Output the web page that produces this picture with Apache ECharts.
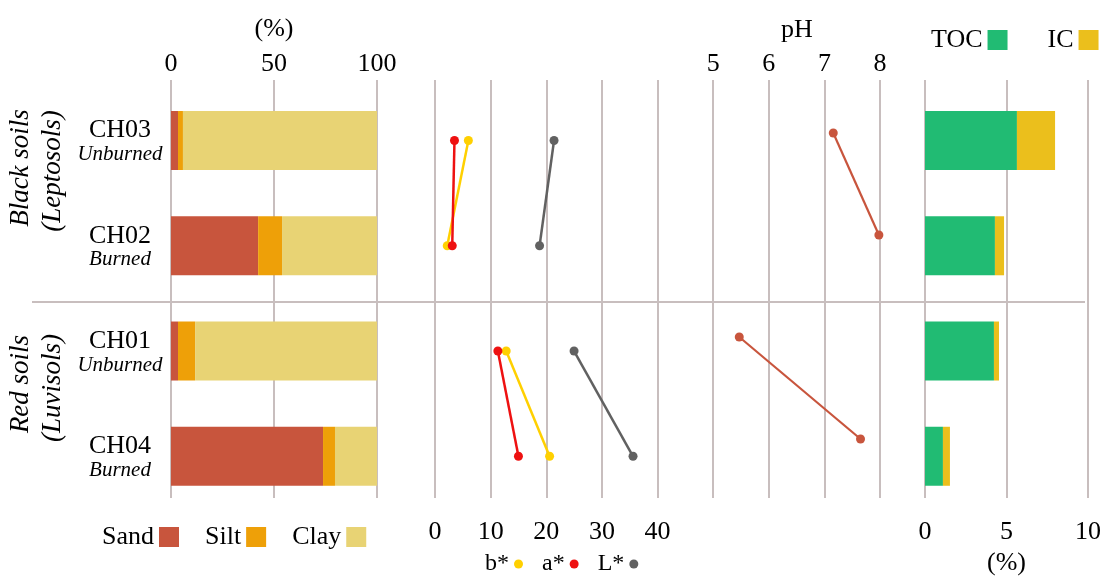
<!DOCTYPE html>
<html>
<head>
<meta charset="utf-8">
<script src="https://cdn.jsdelivr.net/npm/echarts@6/dist/echarts.min.js"></script>
<style>html,body{margin:0;padding:0;background:#fff;}#c{width:1102px;height:576px;}</style>
</head>
<body>
<div id="c"></div>
<script>
// ---- data ----
const samples = ['CH03', 'CH02', 'CH01', 'CH04'];
const treatments = ['Unburned', 'Burned', 'Unburned', 'Burned'];
const groupTop = ['Black soils', '(Leptosols)'];
const groupBottom = ['Red soils', '(Luvisols)'];
const sand = [3.4, 42.3, 3.4, 73.8];
const silt = [2.4, 11.6, 8.3, 5.8];
const clay = [94.2, 46.1, 88.3, 20.4];
const colorL = [21.4, 18.8, 25.0, 35.6];
const colorA = [3.5, 3.1, 11.3, 15.0];
const colorB = [6.0, 2.2, 12.8, 20.6];
const pH = [7.16, 7.98, 5.47, 7.65];
const toc = [5.64, 4.29, 4.23, 1.10];
const ic = [2.34, 0.56, 0.31, 0.43];
const textureTicks = [0, 50, 100];
const colorTicks = [0, 10, 20, 30, 40];
const pHTicks = [5, 6, 7, 8];
const carbonTicks = [0, 5, 10];

const FONT = 'Liberation Serif';
const GRID_C = '#C8BEBE';
const txt = (size, extra) => Object.assign({ fontFamily: FONT, fontSize: size, color: '#000' }, extra || {});

const chart = echarts.init(document.getElementById('c'), null, { renderer: 'canvas' });

// frame vertical extent and data extents
const FT = 80, FH = 418;      // frames (gridlines)
const DT = 87.9, DH = 421;    // bars & colour lines
const PT = 82, PH_H = 408;    // pH lines

const hiddenVal = (g) => ({ gridIndex: g, type: 'value', min: 0, max: 1, show: false });
const hiddenCat = (g) => ({ gridIndex: g, type: 'category', data: samples, inverse: true, show: false });
const split = { show: true, lineStyle: { color: GRID_C, width: 2 } };

function pairs(vals, idx) {
  return samples.map((s, i) => idx.includes(i) ? [vals[i], s] : ['-', s]);
}

const groupFont = 'italic 27px "Liberation Serif"';
const g = (left, width, top, height) => ({ left, width, top, height, containLabel: false, outerBoundsMode: 'none' });

const option = {
  animation: false,
  backgroundColor: '#fff',
  grid: [
    g(171, 206, FT, FH),     // 0 texture frame
    g(171, 206, DT, DH),     // 1 texture data
    g(435, 445, FT, FH),     // 2 colour/pH frame
    g(435, 445, DT, DH),     // 3 colour data
    g(435, 445, PT, PH_H),   // 4 pH data
    g(925, 163, FT, FH),     // 5 carbon frame
    g(925, 163, DT, DH)      // 6 carbon data
  ],
  xAxis: [
    { gridIndex: 0, type: 'value', min: 0, max: 100, interval: 50, position: 'top',
      axisLine: { show: false }, axisTick: { show: false }, splitLine: split,
      axisLabel: txt(26, { margin: 3, formatter: v => textureTicks.includes(v) ? String(v) : '' }),
      name: '(%)', nameLocation: 'middle', nameGap: 38, nameTextStyle: txt(26) },
    { gridIndex: 1, type: 'value', min: 0, max: 100, show: false },
    { gridIndex: 2, type: 'value', min: 0, max: 8, interval: 1, position: 'top',
      axisLine: { show: false }, axisTick: { show: false }, splitLine: split,
      axisLabel: txt(26, { margin: 3, formatter: v => pHTicks.includes(v) ? String(v) : '' }) },
    { gridIndex: 2, type: 'value', min: 0, max: 80, interval: 10, position: 'bottom',
      axisLine: { show: false }, axisTick: { show: false }, splitLine: { show: false },
      axisLabel: txt(26, { margin: 21, formatter: v => colorTicks.includes(v) ? String(v) : '' }) },
    { gridIndex: 3, type: 'value', min: 0, max: 80, show: false },
    { gridIndex: 4, type: 'value', min: 0, max: 8, show: false },
    { gridIndex: 5, type: 'value', min: 0, max: 10, interval: 5, position: 'bottom',
      axisLine: { show: false }, axisTick: { show: false }, splitLine: split,
      axisLabel: txt(26, { margin: 21, formatter: v => carbonTicks.includes(v) ? String(v) : '' }),
      name: '(%)', nameLocation: 'middle', nameGap: 52, nameTextStyle: txt(26) },
    { gridIndex: 6, type: 'value', min: 0, max: 10, show: false }
  ],
  yAxis: [
    hiddenVal(0),
    { gridIndex: 1, type: 'category', data: samples, inverse: true,
      axisLine: { show: false }, axisTick: { show: false }, splitLine: { show: false },
      axisLabel: {
        margin: 51, align: 'center',
        formatter: (v, i) => '{a|' + v + '}\n{b|' + treatments[i] + '}',
        rich: {
          a: { fontFamily: FONT, fontSize: 26, color: '#000', lineHeight: 28, align: 'center' },
          b: { fontFamily: FONT, fontSize: 21, fontStyle: 'italic', color: '#000', lineHeight: 20, align: 'center' }
        }
      } },
    hiddenVal(2),
    hiddenCat(3),
    hiddenCat(4),
    hiddenVal(5),
    hiddenCat(6)
  ],
  legend: [
    { data: ['Sand', 'Silt', 'Clay'], left: 97, top: 519, align: 'right', icon: 'rect',
      itemWidth: 20, itemHeight: 20, itemGap: 26, selectedMode: false, textStyle: txt(26) },
    { data: ['TOC', 'IC'], left: 926, top: 22, align: 'right', icon: 'rect',
      itemWidth: 20, itemHeight: 20, itemGap: 40, selectedMode: false, textStyle: txt(26) },
    { data: ['b*', 'a*', 'L*'], left: 480, top: 547, align: 'right', icon: 'circle',
      itemWidth: 9, itemHeight: 9, itemGap: 19, selectedMode: false, textStyle: txt(24) }
  ],
  graphic: [
    { type: 'line', shape: { x1: 32, y1: 302, x2: 1085, y2: 302 }, style: { stroke: GRID_C, lineWidth: 2 }, z: 0 },
    { type: 'text', x: 21, y: 168, rotation: Math.PI / 2,
      style: { text: groupTop[0], font: groupFont, fill: '#000', textAlign: 'center', textVerticalAlign: 'middle' } },
    { type: 'text', x: 53, y: 171, rotation: Math.PI / 2,
      style: { text: groupTop[1], font: groupFont, fill: '#000', textAlign: 'center', textVerticalAlign: 'middle' } },
    { type: 'text', x: 21, y: 384, rotation: Math.PI / 2,
      style: { text: groupBottom[0], font: groupFont, fill: '#000', textAlign: 'center', textVerticalAlign: 'middle' } },
    { type: 'text', x: 53, y: 388, rotation: Math.PI / 2,
      style: { text: groupBottom[1], font: groupFont, fill: '#000', textAlign: 'center', textVerticalAlign: 'middle' } },
    { type: 'text', x: 797, y: 30,
      style: { text: 'pH', font: '26px "Liberation Serif"', fill: '#000', textAlign: 'center', textVerticalAlign: 'middle' } }
  ],
  series: [
    { name: 'Sand', type: 'bar', xAxisIndex: 1, yAxisIndex: 1, stack: 'tex', barWidth: 59, data: sand, itemStyle: { color: '#C8553D' } },
    { name: 'Silt', type: 'bar', xAxisIndex: 1, yAxisIndex: 1, stack: 'tex', barWidth: 59, data: silt, itemStyle: { color: '#EEA008' } },
    { name: 'Clay', type: 'bar', xAxisIndex: 1, yAxisIndex: 1, stack: 'tex', barWidth: 59, data: clay, itemStyle: { color: '#E8D374' } },
    { name: 'TOC', type: 'bar', xAxisIndex: 7, yAxisIndex: 6, stack: 'c', barWidth: 59, data: toc, itemStyle: { color: '#21BB73' } },
    { name: 'IC', type: 'bar', xAxisIndex: 7, yAxisIndex: 6, stack: 'c', barWidth: 59, data: ic, itemStyle: { color: '#EBBF1C' } }
  ]
};

const lineDefs = [
  { name: 'b*', vals: colorB, color: '#FFD000' },
  { name: 'a*', vals: colorA, color: '#EE1111' },
  { name: 'L*', vals: colorL, color: '#616161' }
];
[[0, 1], [2, 3]].forEach(idx => {
  lineDefs.forEach(d => {
    option.series.push({
      name: d.name, type: 'line', xAxisIndex: 4, yAxisIndex: 3, data: pairs(d.vals, idx),
      symbol: 'circle', symbolSize: 9, connectNulls: false,
      lineStyle: { color: d.color, width: 2.5 }, itemStyle: { color: d.color }
    });
  });
  option.series.push({
    name: 'pH', type: 'line', xAxisIndex: 5, yAxisIndex: 4, data: pairs(pH, idx),
    symbol: 'circle', symbolSize: 9, connectNulls: false,
    lineStyle: { color: '#C8553D', width: 2.2 }, itemStyle: { color: '#C8553D' }
  });
});

chart.setOption(option);
</script>
</body>
</html>
